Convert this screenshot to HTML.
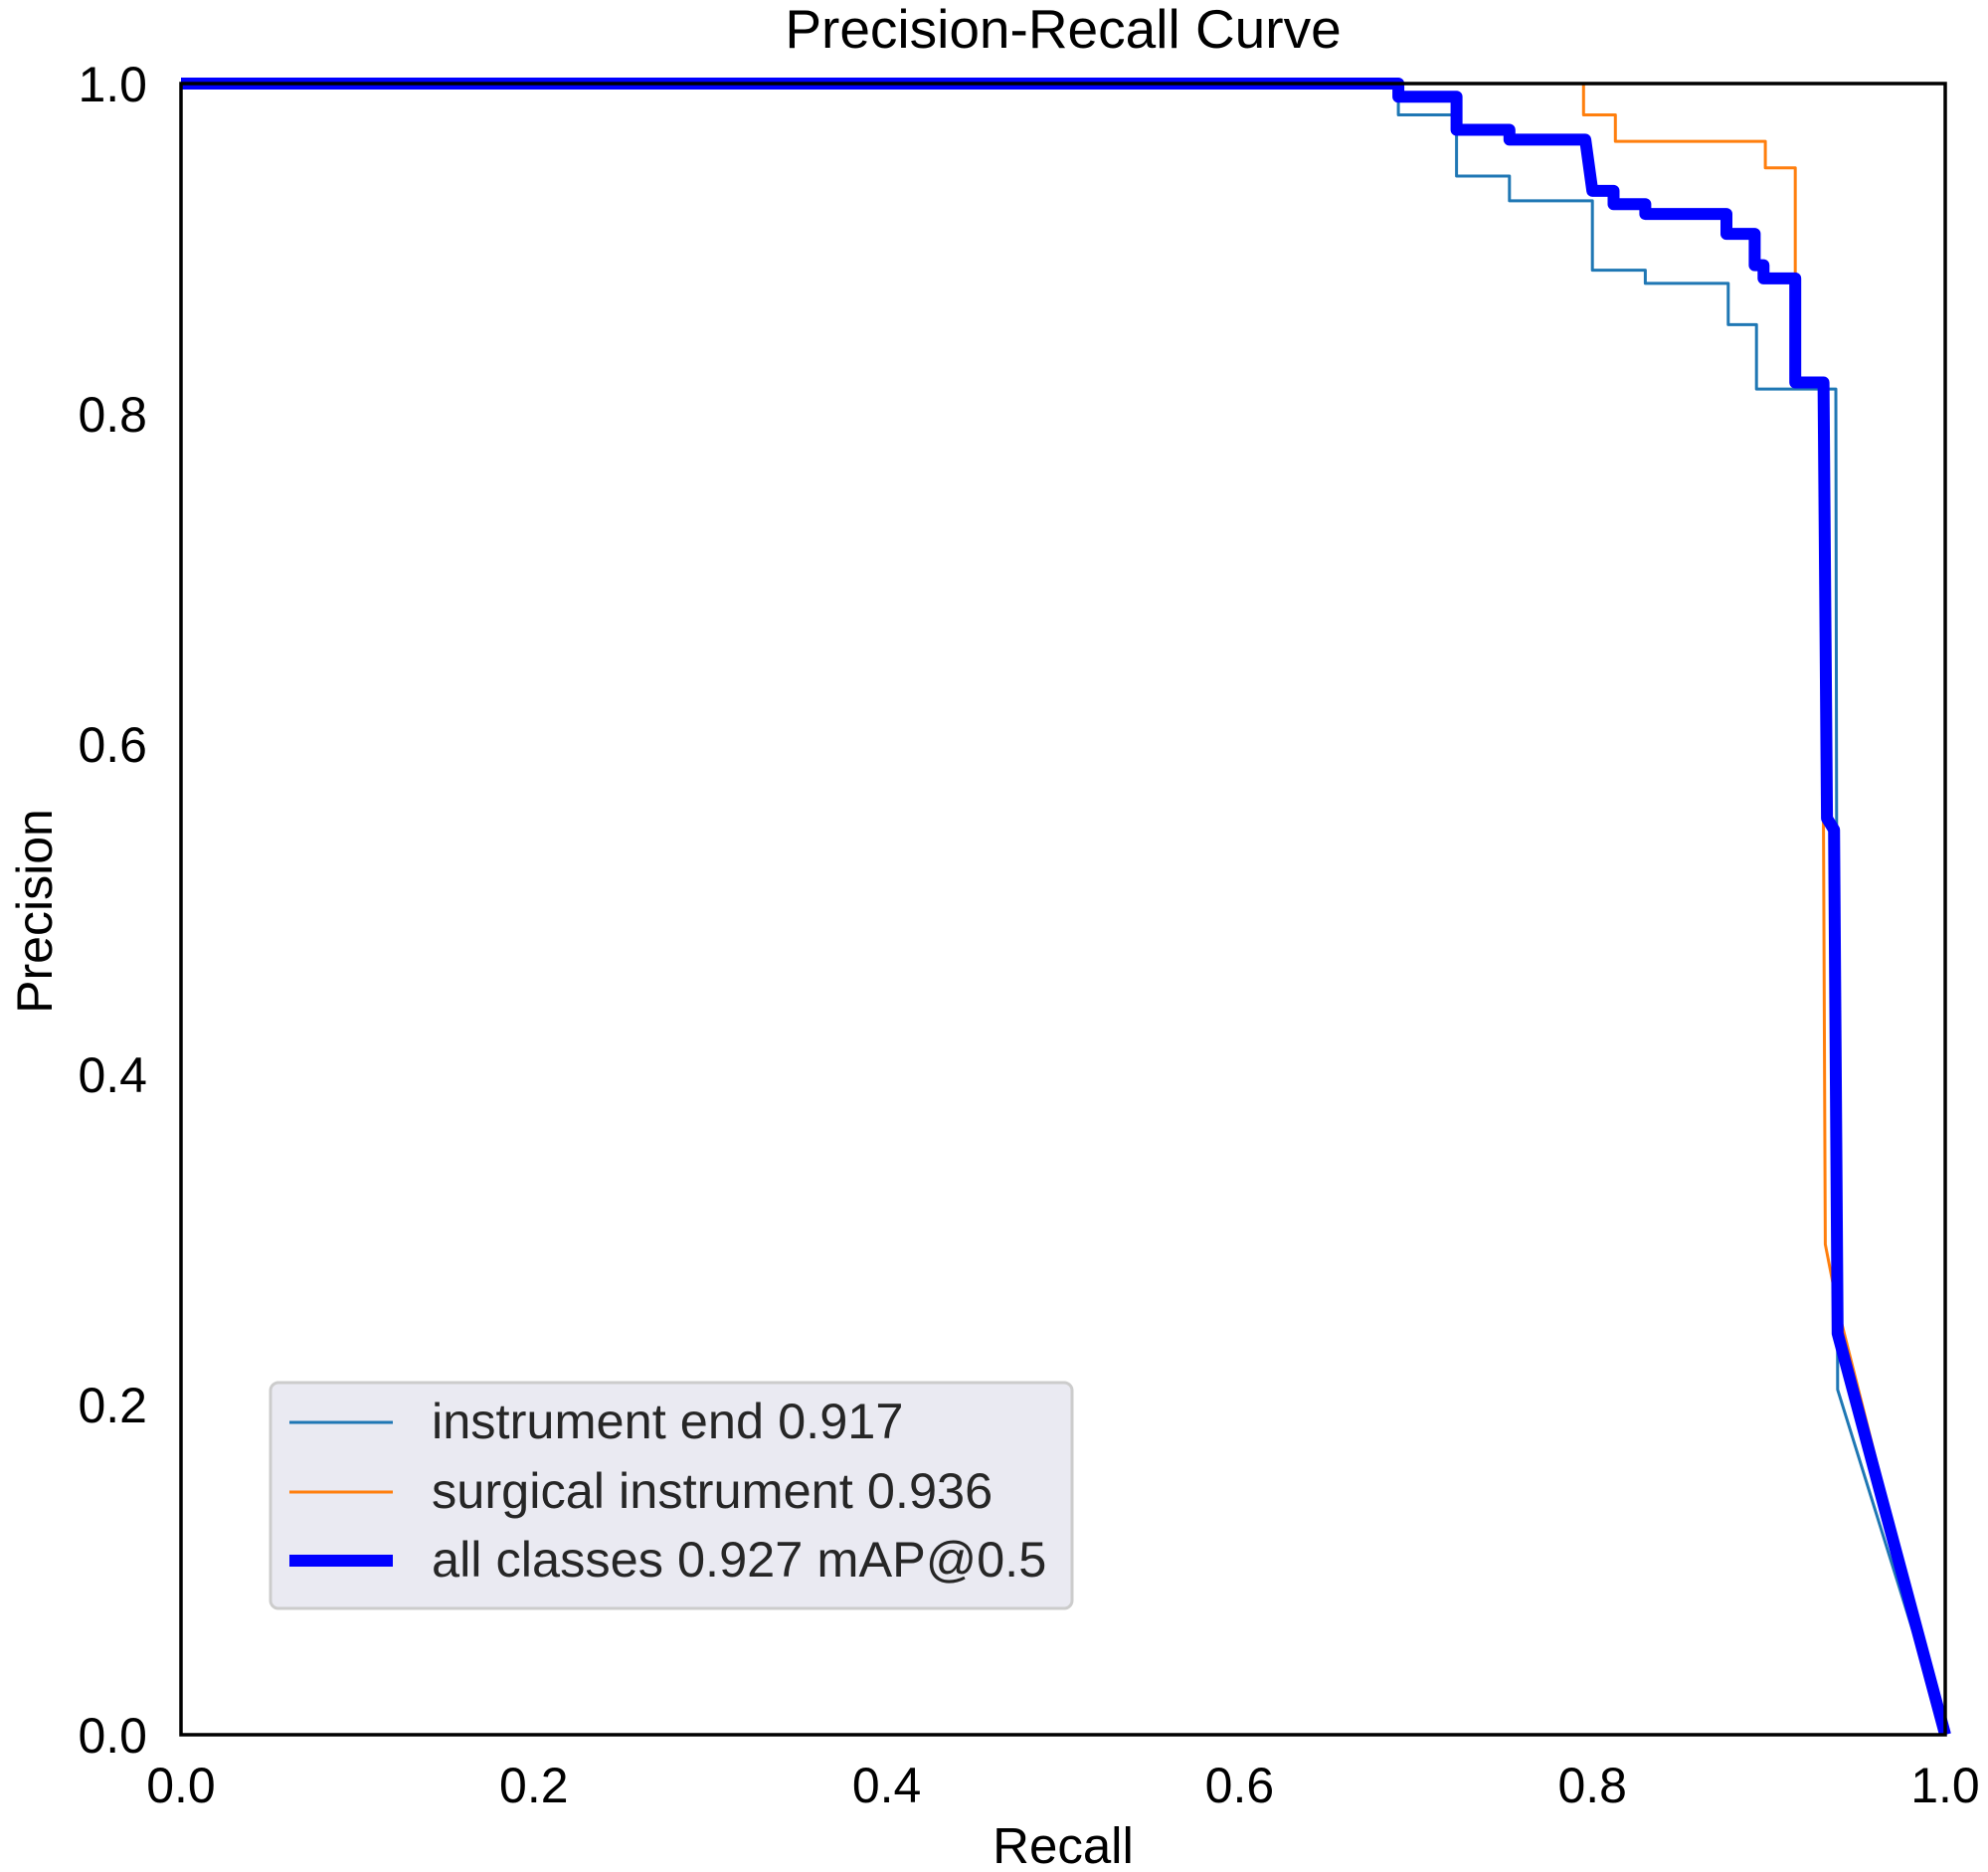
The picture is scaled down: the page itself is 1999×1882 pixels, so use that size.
<!DOCTYPE html>
<html><head><meta charset="utf-8"><style>
html,body{margin:0;padding:0;background:#fff;}
svg{display:block;font-family:"Liberation Sans",Arial,sans-serif;}
</style></head><body>
<svg id="chart" width="1999" height="1882" viewBox="0 0 1999 1882">
<text x="1069" y="48" font-size="55" text-anchor="middle">Precision-Recall Curve</text>
<g id="ticks"></g>
<g id="series"></g>
<rect x="182" y="84" width="1774" height="1660" fill="none" stroke="#000" stroke-width="3.5"/>
<text x="1069" y="1873" font-size="51" text-anchor="middle">Recall</text>
<text transform="translate(52,916) rotate(-90)" font-size="50" text-anchor="middle">Precision</text>
<g>
<rect x="272" y="1390" width="806" height="227" rx="8" fill="#eaeaf2" stroke="#cccccc" stroke-width="3"/>
<line x1="291" y1="1430" x2="395" y2="1430" stroke="#1f77b4" stroke-width="3"/>
<text x="434" y="1446" font-size="50.5" fill="#262626">instrument end 0.917</text>
<line x1="291" y1="1500" x2="395" y2="1500" stroke="#ff7f0e" stroke-width="3"/>
<text x="434" y="1516" font-size="50.5" fill="#262626">surgical instrument 0.936</text>
<line x1="291" y1="1569" x2="395" y2="1569" stroke="#0000ff" stroke-width="12"/>
<text x="434" y="1585" font-size="50.5" fill="#262626">all classes 0.927 mAP@0.5</text>
</g>
</svg>
<script>
const xTicks = [0, 0.2, 0.4, 0.6, 0.8, 1.0];
const yTicks = [0, 0.2, 0.4, 0.6, 0.8, 1.0];
const tickLabels = ["0.0", "0.2", "0.4", "0.6", "0.8", "1.0"];
const endRecall = [0, 0.69, 0.69, 0.723, 0.723, 0.753, 0.753, 0.8, 0.8, 0.83, 0.83, 0.877, 0.877, 0.893, 0.893, 0.938, 0.939, 1.0];
const endPrecision = [1, 1, 0.981, 0.981, 0.944, 0.944, 0.929, 0.929, 0.887, 0.887, 0.879, 0.879, 0.854, 0.854, 0.815, 0.815, 0.209, 0];
const surgRecall = [0, 0.795, 0.795, 0.813, 0.813, 0.898, 0.898, 0.915, 0.915, 0.93, 0.931, 0.932, 0.939, 1.0];
const surgPrecision = [1, 1, 0.981, 0.981, 0.965, 0.965, 0.949, 0.949, 0.819, 0.819, 0.547, 0.297, 0.259, 0];
const allRecall = [0, 0.69, 0.69, 0.723, 0.723, 0.753, 0.753, 0.796, 0.8, 0.812, 0.812, 0.83, 0.83, 0.876, 0.876, 0.892, 0.892, 0.897, 0.897, 0.915, 0.915, 0.931, 0.933, 0.937, 0.939, 1.0];
const allPrecision = [1, 1, 0.992, 0.992, 0.972, 0.972, 0.966, 0.966, 0.935, 0.935, 0.927, 0.927, 0.921, 0.921, 0.909, 0.909, 0.89, 0.89, 0.882, 0.882, 0.819, 0.819, 0.555, 0.548, 0.243, 0];

const X0 = 182, X1 = 1956, Y0 = 1744, Y1 = 84;
function xs(v){ return X0 + v * (X1 - X0); }
function ys(v){ return Y0 - v * (Y0 - Y1); }
const NS = "http://www.w3.org/2000/svg";
const tg = document.getElementById("ticks");
xTicks.forEach((t, i) => {
  const el = document.createElementNS(NS, "text");
  el.setAttribute("x", xs(t)); el.setAttribute("y", 1812);
  el.setAttribute("font-size", "50"); el.setAttribute("text-anchor", "middle");
  el.textContent = tickLabels[i];
  
  
  tg.appendChild(el);
});
yTicks.forEach((t, i) => {
  const el = document.createElementNS(NS, "text");
  el.setAttribute("x", 148); el.setAttribute("y", ys(t) + 18);
  el.setAttribute("font-size", "50"); el.setAttribute("text-anchor", "end");
  el.textContent = tickLabels[i];
  
  
  tg.appendChild(el);
});
const sg = document.getElementById("series");
function draw(rx, py, color, w, name){
  const pts = rx.map((r, i) => xs(r).toFixed(1) + "," + ys(py[i]).toFixed(1)).join(" ");
  const pl = document.createElementNS(NS, "polyline");
  pl.setAttribute("points", pts);
  pl.setAttribute("fill", "none");
  pl.setAttribute("stroke", color);
  pl.setAttribute("stroke-width", w);
  pl.setAttribute("stroke-linejoin", "round");
  
  
  sg.appendChild(pl);
}
draw(endRecall, endPrecision, "#1f77b4", 3, "instrument-end-curve");
draw(surgRecall, surgPrecision, "#ff7f0e", 3, "surgical-instrument-curve");
draw(allRecall, allPrecision, "#0000ff", 12, "all-classes-curve");
</script>
</body></html>
